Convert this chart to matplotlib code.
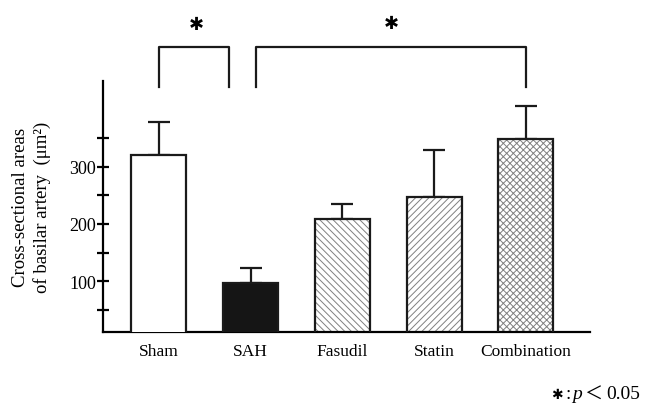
import numpy as np
import matplotlib.pyplot as plt

groups = ["Sham", "SAH", "Fasudil", "Statin", "Combination"]
means = [321, 97, 209, 247, 348]
errors = [56, 26, 26, 82, 57]
faces = ["white", "#151515", "white", "white", "white"]
hatches = [None, None, "\\\\\\\\\\", "/////", "xxxxx"]

plt.rcParams["font.family"] = ["Liberation Serif", "DejaVu Serif"]
plt.rcParams["hatch.linewidth"] = 0.7

fig = plt.figure(figsize=(6.46, 4.06), dpi=100)
ax = fig.add_axes([0.1594, 0.18, 0.754, 0.618])

x = np.arange(len(groups))
# hatch layer in grey, outline in black on top
for i in range(len(groups)):
    if hatches[i]:
        ax.bar(x[i], means[i], width=0.6, color="white", edgecolor="#808080",
               hatch=hatches[i], linewidth=0, zorder=2)
        ax.bar(x[i], means[i], width=0.6, fill=False, edgecolor="#1a1a1a",
               linewidth=1.6, zorder=3)
    else:
        ax.bar(x[i], means[i], width=0.6, color=faces[i], edgecolor="#1a1a1a",
               linewidth=1.6, zorder=3)

ax.errorbar(x, means, yerr=[np.zeros(len(means)), errors], fmt="none",
            ecolor="#1a1a1a", elinewidth=1.6, capsize=8, capthick=1.6, zorder=1)

ax.set_xlim(-0.61, 4.7)
ax.set_ylim(12, 449)
ax.set_xticks(x)
ax.set_xticklabels(groups, fontsize=12.5)
ax.set_yticks([100, 200, 300])
ax.set_yticks([50, 150, 250, 350], minor=True)
ax.tick_params(axis="x", length=0, pad=8)
ax.tick_params(axis="y", which="both", direction="inout", length=8, width=1.6,
               labelsize=13, pad=1)
for s in ["top", "right"]:
    ax.spines[s].set_visible(False)
ax.spines["left"].set_linewidth(1.6)
ax.spines["bottom"].set_linewidth(1.6)

ax.set_ylabel("Cross-sectional areas\nof basilar artery  (μm²)", fontsize=13.5,
              labelpad=13, linespacing=1.3)

# significance brackets
def bracket(x0, x1, ytop, ybot):
    ax.plot([x0, x0, x1, x1], [ybot, ytop, ytop, ybot], color="#1a1a1a",
            lw=1.6, clip_on=False)

bracket(0.0, 0.76, 508, 438)
bracket(1.06, 4.0, 508, 438)
ax.text(0.41, 548, "✱", family="DejaVu Sans", fontsize=13, ha="center",
        va="center", clip_on=False)
ax.text(2.53, 550, "✱", family="DejaVu Sans", fontsize=13, ha="center",
        va="center", clip_on=False)

# footnote
fy = 0.028
fig.text(0.862, fy, "✱", family="DejaVu Sans", fontsize=10, ha="center",
         va="center")
fig.text(0.876, fy, ":", fontsize=14, ha="left", va="center")
fig.text(0.886, fy, "p", fontsize=14, style="italic", ha="left", va="center")
fig.text(0.904, fy, "＜", family=["Noto Sans CJK JP"], fontsize=13, ha="left",
         va="center")
fig.text(0.938, fy, "0.05", fontsize=14, ha="left", va="center")

fig.savefig("out.png", dpi=100)
